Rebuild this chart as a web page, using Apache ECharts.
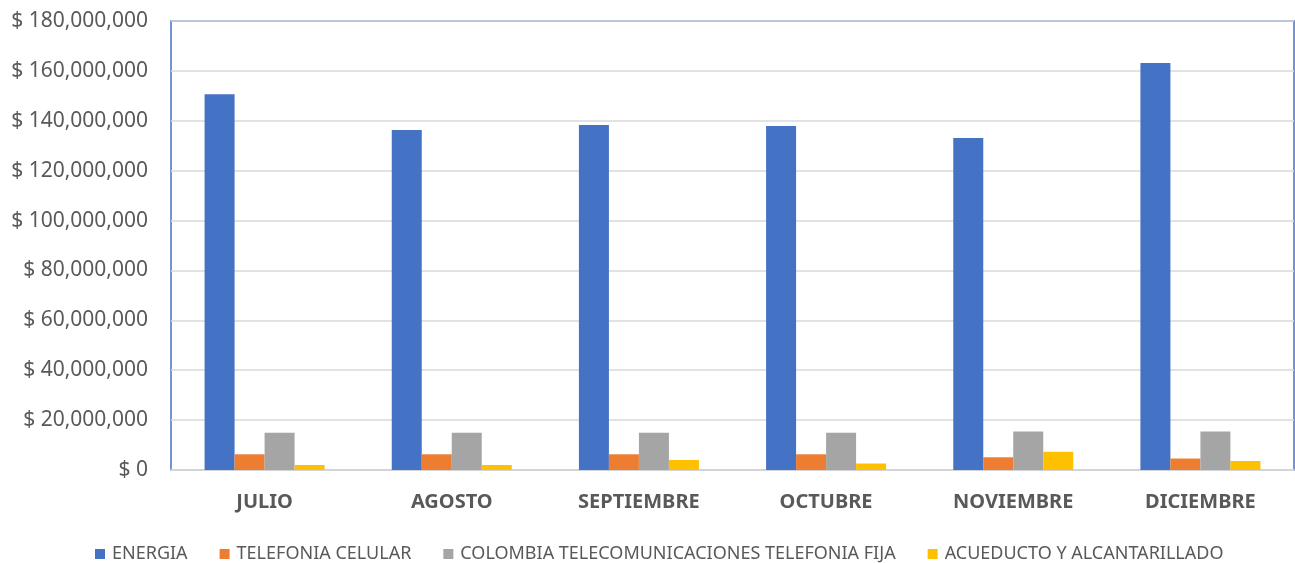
<!DOCTYPE html>
<html>
<head>
<meta charset="utf-8">
<script src="https://cdn.jsdelivr.net/npm/echarts@6/dist/echarts.min.js"></script>
<style>html,body{margin:0;padding:0;background:#fff}#c{width:1295px;height:563px}</style>
</head>
<body>
<div id="c"></div>
<script>
const categories = ['JULIO', 'AGOSTO', 'SEPTIEMBRE', 'OCTUBRE', 'NOVIEMBRE', 'DICIEMBRE'];
const seriesNames = ['ENERGIA', 'TELEFONIA CELULAR', 'COLOMBIA TELECOMUNICACIONES TELEFONIA FIJA', 'ACUEDUCTO Y ALCANTARILLADO'];
const energia = [150600000, 136300000, 138300000, 137900000, 133100000, 163200000];
const telefoniaCelular = [6300000, 6300000, 6300000, 6300000, 5100000, 4600000];
const telefoniaFija = [14900000, 14900000, 14900000, 14900000, 15400000, 15400000];
const acueducto = [2000000, 2000000, 4000000, 2600000, 7300000, 3600000];
const colors = ['#4472C4', '#ED7D31', '#A5A5A5', '#FFC000'];
const yTicks = { min: 0, max: 180000000, interval: 20000000 };

const chart = echarts.init(document.getElementById('c'));
const dataSets = [energia, telefoniaCelular, telefoniaFija, acueducto];
chart.setOption({
  animation: false,
  color: colors,
  textStyle: { fontFamily: 'Noto Sans' },
  grid: { left: 171, right: 1, top: 21, bottom: 93, show: true, borderColor: '#4472C4', borderWidth: 1.5, backgroundColor: 'transparent' },
  legend: {
    top: 540, left: 90, itemWidth: 10, itemHeight: 10, itemGap: 32,
    icon: 'rect',
    textStyle: { color: '#595959', fontSize: 18, fontFamily: 'Noto Sans', padding: [0, 0, 0, 2] },
    data: seriesNames
  },
  xAxis: {
    type: 'category', data: categories,
    axisLine: { show: true, lineStyle: { color: '#d9d9d9', width: 1.5 } },
    axisTick: { show: false },
    axisLabel: { color: '#595959', fontSize: 20, fontWeight: 'bold', margin: 22, fontFamily: 'Noto Sans' }
  },
  yAxis: {
    type: 'value', min: yTicks.min, max: yTicks.max, interval: yTicks.interval,
    axisLine: { show: false }, axisTick: { show: false },
    splitLine: { lineStyle: { color: '#d9d9d9', width: 1.5 } },
    axisLabel: { color: '#595959', fontSize: 21, margin: 23, fontFamily: 'Noto Sans',
      formatter: v => '$ ' + v.toLocaleString('en-US') }
  },
  series: seriesNames.map((n, i) => ({
    name: n, type: 'bar', data: dataSets[i],
    barWidth: 30, barGap: '0%',
    itemStyle: { color: colors[i] }
  }))
});
</script>
</body>
</html>
